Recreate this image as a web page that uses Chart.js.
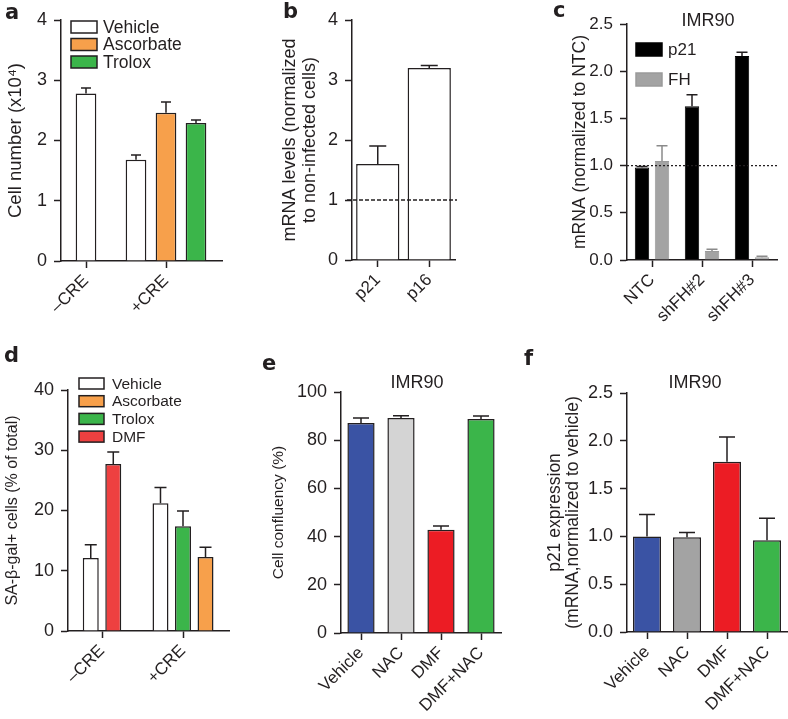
<!DOCTYPE html>
<html>
<head>
<meta charset="utf-8">
<script src="https://cdn.jsdelivr.net/npm/chart.js@4"></script>
<style>
  html, body { margin: 0; padding: 0; background: #fff; }
  #fig { position: relative; width: 788px; height: 719px; overflow: hidden; }
  #fig canvas { position: absolute; }
</style>
</head>
<body>
<div id="fig">
  <canvas id="chartA" width="260" height="330" style="left:0px;top:0px"></canvas>
  <canvas id="chartB" width="260" height="330" style="left:260px;top:0px"></canvas>
  <canvas id="chartC" width="268" height="330" style="left:520px;top:0px"></canvas>
  <canvas id="chartD" width="260" height="389" style="left:0px;top:330px"></canvas>
  <canvas id="chartE" width="260" height="389" style="left:260px;top:330px"></canvas>
  <canvas id="chartF" width="268" height="389" style="left:520px;top:330px"></canvas>
</div>
<script>
// ---- data ----

// a: cell number (x10^4)
const aGroups = ['–CRE', '+CRE'];
const aVehicle = [2.78, 1.68];
const aVehicleErr = [0.09, 0.08];
const aAscorbate = [null, 2.46];
const aAscorbateErr = [null, 0.18];
const aTrolox = [null, 2.29];
const aTroloxErr = [null, 0.05];
const aTicks = [0, 1, 2, 3, 4];

// b: mRNA levels normalized to non-infected cells
const bGenes = ['p21', 'p16'];
const bLevels = [1.6, 3.2];
const bLevelsErr = [0.3, 0.04];
const bTicks = [0, 1, 2, 3, 4];

// c: IMR90 mRNA normalized to NTC
const cGroups = ['NTC', 'shFH#2', 'shFH#3'];
const cP21 = [0.98, 1.63, 2.16];
const cP21Err = [0.01, 0.12, 0.04];
const cFH = [1.05, 0.095, 0.03];
const cFHErr = [0.16, 0.02, 0.01];
const cTicks = [0, 0.5, 1.0, 1.5, 2.0, 2.5];

// d: SA-beta-gal+ cells (% of total)
const dGroups = ['–CRE', '+CRE'];
const dVehicle = [12.1, 21.2];
const dVehicleErr = [2.2, 2.6];
const dAscorbate = [null, 12.3];
const dAscorbateErr = [null, 1.6];
const dTrolox = [null, 17.4];
const dTroloxErr = [null, 2.5];
const dDMF = [27.7, null];
const dDMFErr = [2.0, null];
const dTicks = [0, 10, 20, 30, 40];

// e: IMR90 cell confluency (%)
const eConditions = ['Vehicle', 'NAC', 'DMF', 'DMF+NAC'];
const eConfluency = [87.1, 89.2, 42.8, 88.8];
const eConfluencyErr = [2.1, 0.9, 1.6, 1.2];
const eTicks = [0, 20, 40, 60, 80, 100];

// f: IMR90 p21 expression
const fConditions = ['Vehicle', 'NAC', 'DMF', 'DMF+NAC'];
const fP21 = [1.0, 0.99, 1.78, 0.96];
const fP21Err = [0.23, 0.05, 0.26, 0.23];
const fTicks = [0, 0.5, 1.0, 1.5, 2.0, 2.5];

// ---- styling ----
const ink = '#231f20';
const white = '#ffffff';
const orange = '#f7a04b';
const green = '#3bb54a';
const red = '#ee4040';
const blue = '#3a53a4';
const brightRed = '#ec1c24';
const lightGray = '#d4d4d4';
const midGray = '#a3a3a3';

Chart.defaults.font.family = '"Liberation Sans", Arial, sans-serif';
Chart.defaults.font.size = 18;
Chart.defaults.color = ink;

// error bars (upper half only, like the figure)
const errorBars = {
  id: 'errorBars',
  afterDatasetsDraw(chart, args, o) {
    const {ctx} = chart;
    const y = chart.scales.y;
    chart.data.datasets.forEach((ds, i) => {
      if (!ds.errors) return;
      chart.getDatasetMeta(i).data.forEach((bar, j) => {
        const raw = ds.data[j];
        const v = raw !== null && typeof raw === 'object' ? raw.y : raw;
        const e = ds.errors[j];
        if (v == null || e == null) return;
        const top = y.getPixelForValue(v + e);
        const half = (o.cap || 10) / 2;
        ctx.save();
        ctx.strokeStyle = ds.errorColor || ink;
        ctx.lineWidth = 1.5;
        ctx.beginPath();
        ctx.moveTo(bar.x, bar.y);
        ctx.lineTo(bar.x, top);
        ctx.moveTo(bar.x - half, top);
        ctx.lineTo(bar.x + half, top);
        ctx.stroke();
        ctx.restore();
      });
    });
  }
};

// dashed reference line at a value
const refLine = {
  id: 'refLine',
  afterDatasetsDraw(chart, args, o) {
    if (!o || o.value == null) return;
    const {ctx, chartArea} = chart;
    const py = chart.scales.y.getPixelForValue(o.value);
    ctx.save();
    ctx.setLineDash(o.dash);
    ctx.strokeStyle = ink;
    ctx.lineWidth = 1.3;
    ctx.beginPath();
    ctx.moveTo(chartArea.left - (o.extendLeft || 0), py);
    ctx.lineTo(chartArea.right + (o.extendRight || 0), py);
    ctx.stroke();
    ctx.restore();
  }
};

// legend with boxes, stacked vertically inside the plot
const boxLegend = {
  id: 'boxLegend',
  afterDraw(chart, args, o) {
    if (!o || o.dx == null) return;
    const {ctx, chartArea} = chart;
    ctx.save();
    ctx.font = o.size + 'px ' + Chart.defaults.font.family;
    ctx.textBaseline = 'middle';
    chart.data.datasets.forEach((ds, i) => {
      const x = chartArea.left + o.dx;
      const y = chartArea.top + o.dy + i * o.step;
      ctx.fillStyle = ds.backgroundColor;
      ctx.fillRect(x, y, o.boxW, o.boxH);
      ctx.strokeStyle = ds.borderColor;
      ctx.lineWidth = 1.5;
      ctx.strokeRect(x, y, o.boxW, o.boxH);
      ctx.fillStyle = ink;
      ctx.fillText(ds.label, x + o.boxW + o.gap, y + o.boxH / 2 + 1);
    });
    ctx.restore();
  }
};

// panel letter and optional title
const panelText = {
  id: 'panelText',
  afterDraw(chart, args, o) {
    if (!o || !o.letter) return;
    const {ctx} = chart;
    ctx.save();
    ctx.fillStyle = ink;
    ctx.font = 'bold 21px "DejaVu Sans", sans-serif';
    ctx.textBaseline = 'alphabetic';
    ctx.fillText(o.letter, o.lx, o.ly);
    if (o.title) {
      ctx.font = '18px ' + Chart.defaults.font.family;
      ctx.textAlign = 'center';
      ctx.textBaseline = 'middle';
      ctx.fillText(o.title, o.tx, o.ty);
    }
    ctx.restore();
  }
};

Chart.register(errorBars, refLine, boxLegend, panelText);

// bars of one group placed side by side around the group's index
function sideBySide(groupCount, series, order, step) {
  const out = series.map(() => ({points: [], errors: []}));
  for (let g = 0; g < groupCount; g++) {
    const present = order.filter(k => series[k].values[g] != null);
    present.forEach((k, slot) => {
      out[k].points.push({x: g + (slot - (present.length - 1) / 2) * step, y: series[k].values[g]});
      out[k].errors.push(series[k].errors[g]);
    });
  }
  return out;
}

function yAxis(area, o) {
  const lh = o.lh || 1.2;
  return {
    min: o.ticks[0],
    max: o.ticks[o.ticks.length - 1],
    afterBuildTicks: s => { s.ticks = o.ticks.map(v => ({value: v})); },
    ticks: {padding: 7, font: {size: o.tickSize || 18}, callback: o.fmt || (v => v)},
    grid: {drawOnChartArea: false, tickLength: 7, tickWidth: 1.5, tickColor: ink},
    border: {color: ink, width: 1.5},
    title: {
      display: true, text: o.title, color: ink,
      font: {size: o.titleSize, lineHeight: lh},
      padding: {top: o.titleX - o.titleSize * lh / 2, bottom: 0}
    },
    afterFit: s => { s.width = area.l; }
  };
}

function xAxis(area, H, extra) {
  const ticks = Object.assign({minRotation: 45, maxRotation: 45, autoSkip: false, padding: 3, font: {size: 17}}, extra.ticks || {});
  return Object.assign({
    offset: true,
    grid: {offset: false, drawOnChartArea: false, tickLength: 7, tickWidth: 1.5, tickColor: ink},
    border: {color: ink, width: 1.5},
    afterFit: s => { s.height = H - area.b; }
  }, extra, {ticks});
}

function options(area, W, H, x, y, plugins) {
  return {
    responsive: false,
    animation: false,
    devicePixelRatio: 1,
    layout: {padding: {left: 0, top: area.t, right: W - area.r, bottom: 0}},
    plugins: Object.assign({legend: {display: false}, tooltip: {enabled: false}}, plugins),
    scales: {x, y}
  };
}

// ---- a ----
(function () {
  const W = 260, H = 330, area = {l: 61, t: 20, r: 222, b: 261};
  const names = ['Vehicle', 'Ascorbate', 'Trolox'];
  const fills = [white, orange, green];
  const placed = sideBySide(aGroups.length, [
    {values: aVehicle, errors: aVehicleErr},
    {values: aAscorbate, errors: aAscorbateErr},
    {values: aTrolox, errors: aTroloxErr}
  ], [0, 1, 2], 0.375);
  new Chart(document.getElementById('chartA'), {
    type: 'bar',
    data: {
      datasets: placed.map((p, i) => ({
        label: names[i], data: p.points, errors: p.errors,
        backgroundColor: fills[i], borderColor: ink, borderWidth: 1.5,
        grouped: false, barPercentage: 0.69, categoryPercentage: 1
      }))
    },
    options: options(area, W, H,
      xAxis(area, H, {
        type: 'linear', offset: false, min: -0.3125, max: 1.7,
        afterBuildTicks: s => { s.ticks = aGroups.map((g, i) => ({value: i})); },
        ticks: {callback: (v, i) => aGroups[i]}
      }),
      yAxis(area, {ticks: aTicks, title: 'Cell number (x10⁴)', titleSize: 18.5, titleX: 16}),
      {
        errorBars: {cap: 10},
        boxLegend: {dx: 10, dy: 1, boxW: 26, boxH: 12, step: 17.5, gap: 6, size: 17.5},
        panelText: {letter: 'a', lx: 5, ly: 19}
      })
  });
})();

// ---- b ----
(function () {
  const W = 260, H = 330, area = {l: 92, t: 20, r: 195, b: 260};
  new Chart(document.getElementById('chartB'), {
    type: 'bar',
    data: {
      labels: bGenes,
      datasets: [{
        label: 'mRNA', data: bLevels, errors: bLevelsErr,
        backgroundColor: white, borderColor: ink, borderWidth: 1.5,
        barPercentage: 0.84, categoryPercentage: 1
      }]
    },
    options: options(area, W, H,
      xAxis(area, H, {}),
      yAxis(area, {ticks: bTicks, title: ['mRNA levels (normalized', 'to non-infected cells)'], titleSize: 18, lh: 1.11, titleX: 30}),
      {
        errorBars: {cap: 17},
        refLine: {value: 1, dash: [4, 2], extendLeft: 5, extendRight: 2},
        panelText: {letter: 'b', lx: 23, ly: 18}
      })
  });
})();

// ---- c ----
(function () {
  const W = 268, H = 330, area = {l: 107, t: 24, r: 257, b: 260};
  new Chart(document.getElementById('chartC'), {
    type: 'bar',
    data: {
      labels: cGroups,
      datasets: [
        {label: 'p21', data: cP21, errors: cP21Err, backgroundColor: '#000000', borderColor: '#000000',
         borderWidth: 1, barPercentage: 0.72, categoryPercentage: 0.8},
        {label: 'FH', data: cFH, errors: cFHErr, errorColor: '#8a8a8a', backgroundColor: midGray, borderColor: '#9a9a9a',
         borderWidth: 1, barPercentage: 0.72, categoryPercentage: 0.8}
      ]
    },
    options: options(area, W, H,
      xAxis(area, H, {}),
      yAxis(area, {ticks: cTicks, fmt: v => v.toFixed(1), tickSize: 17, title: 'mRNA (normalized to NTC)', titleSize: 17.5, titleX: 60}),
      {
        errorBars: {cap: 11},
        refLine: {value: 1, dash: [2, 2]},
        boxLegend: {dx: 9, dy: 19, boxW: 26, boxH: 13, step: 30, gap: 6, size: 17},
        panelText: {letter: 'c', lx: 33, ly: 17, title: 'IMR90', tx: 188, ty: 21}
      })
  });
})();

// ---- d ----
(function () {
  const W = 260, H = 389, area = {l: 68, t: 60, r: 229, b: 301};
  const names = ['Vehicle', 'Ascorbate', 'Trolox', 'DMF'];
  const fills = [white, orange, green, red];
  const placed = sideBySide(dGroups.length, [
    {values: dVehicle, errors: dVehicleErr},
    {values: dAscorbate, errors: dAscorbateErr},
    {values: dTrolox, errors: dTroloxErr},
    {values: dDMF, errors: dDMFErr}
  ], [0, 3, 2, 1], 0.278);
  new Chart(document.getElementById('chartD'), {
    type: 'bar',
    data: {
      datasets: placed.map((p, i) => ({
        label: names[i], data: p.points, errors: p.errors,
        backgroundColor: fills[i], borderColor: ink, borderWidth: 1.5,
        grouped: false, barPercentage: 0.71, categoryPercentage: 1
      }))
    },
    options: options(area, W, H,
      xAxis(area, H, {
        type: 'linear', offset: false, min: -0.42, max: 1.568,
        afterBuildTicks: s => { s.ticks = dGroups.map((g, i) => ({value: i})); },
        ticks: {callback: (v, i) => dGroups[i]}
      }),
      yAxis(area, {ticks: dTicks, title: 'SA-β-gal+ cells (% of total)', titleSize: 16, titleX: 13}),
      {
        errorBars: {cap: 12},
        boxLegend: {dx: 11, dy: -12, boxW: 25, boxH: 11, step: 17.7, gap: 8, size: 15.5},
        panelText: {letter: 'd', lx: 4, ly: 32}
      })
  });
})();

// ---- e ----
(function () {
  const W = 260, H = 389, area = {l: 81, t: 62, r: 241, b: 303};
  new Chart(document.getElementById('chartE'), {
    type: 'bar',
    data: {
      labels: eConditions,
      datasets: [{
        label: 'Cell confluency', data: eConfluency, errors: eConfluencyErr,
        backgroundColor: [blue, lightGray, brightRed, green], borderColor: ink, borderWidth: 1.5,
        barPercentage: 0.68, categoryPercentage: 1
      }]
    },
    options: options(area, W, H,
      xAxis(area, H, {}),
      yAxis(area, {ticks: eTicks, title: 'Cell confluency (%)', titleSize: 15.5, titleX: 19}),
      {
        errorBars: {cap: 16},
        panelText: {letter: 'e', lx: 2, ly: 40, title: 'IMR90', tx: 157, ty: 53}
      })
  });
})();

// ---- f ----
(function () {
  const W = 268, H = 389, area = {l: 107, t: 63, r: 267, b: 302};
  new Chart(document.getElementById('chartF'), {
    type: 'bar',
    data: {
      labels: fConditions,
      datasets: [{
        label: 'p21 expression', data: fP21, errors: fP21Err,
        backgroundColor: [blue, midGray, brightRed, green], borderColor: ink, borderWidth: 1.5,
        barPercentage: 0.7, categoryPercentage: 1
      }]
    },
    options: options(area, W, H,
      xAxis(area, H, {}),
      yAxis(area, {ticks: fTicks, fmt: v => v.toFixed(1), title: ['p21 expression', '(mRNA,normalized to vehicle)'], titleSize: 17.5, lh: 1.03, titleX: 35}),
      {
        errorBars: {cap: 16},
        panelText: {letter: 'f', lx: 4, ly: 35, title: 'IMR90', tx: 175, ty: 53}
      })
  });
})();
</script>
</body>
</html>
